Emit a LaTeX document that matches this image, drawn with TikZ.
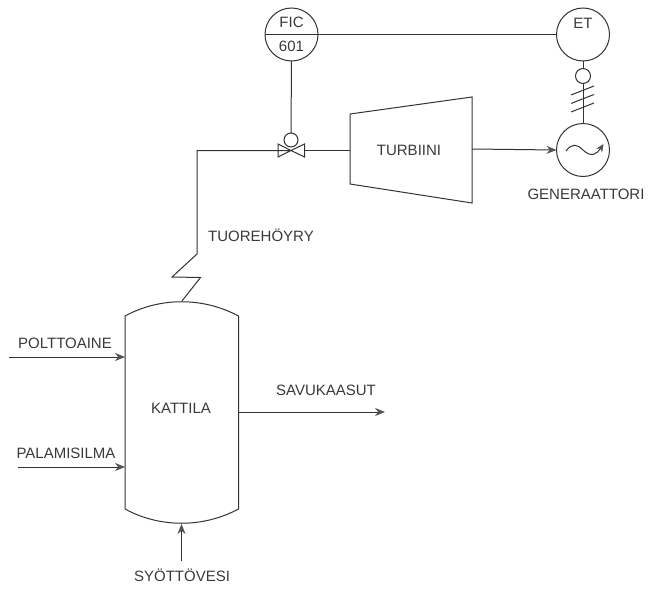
\documentclass[tikz,border=0pt]{standalone}
\usepackage{fontspec}
\setmainfont{Liberation Sans}
\usetikzlibrary{arrows.meta}
\definecolor{ink}{HTML}{333333}
\definecolor{txt}{HTML}{3A3A3A}
\tikzset{
  pipe/.style={draw=ink,line width=1pt},
  flow/.style={pipe,-{Stealth[length=10pt,width=8pt,color=ink!85]}},
  instr/.style={circle,draw=ink,line width=1pt,minimum size=53pt,inner sep=0pt,outer sep=0pt,fill=white},
  bubble/.style={circle,draw=ink,line width=1pt,minimum size=15pt,inner sep=0pt,outer sep=0pt,fill=white},
  lbl/.style={text=txt,font=\fontsize{15}{17}\selectfont,inner sep=0pt,anchor=center},
}
\begin{document}
\begin{tikzpicture}[x=1pt,y=-1pt]
\useasboundingbox (0,0) rectangle (648,589);
\fill[white] (0,0) rectangle (648,589);
% instruments
\node[instr] (fic) at (291.5,34.5) {};
\node[instr] (et) at (583,34.5) {};
\node[instr] (gen) at (583,150) {};
\node[bubble] (pos) at (583,76) {};
\node[bubble,minimum size=14pt] (act) at (291,140) {};
\coordinate (valve) at (291,150.5);
\coordinate (vl) at (278,150.5);
\coordinate (vr) at (304.5,150.5);
% turbine
\coordinate (ttl) at (350,114);
\coordinate (ttr) at (472,97);
\coordinate (tbr) at (472,203);
\coordinate (tbl) at (350,184);
\coordinate (tin) at (350,150.5);
\coordinate (tout) at (472,149);
\draw[pipe] (ttl)--(ttr)--(tbr)--(tbl)--cycle;
\node[lbl] (tur) at (409,150) {TURBIINI};
% FIC
\draw[pipe] (fic.west)--(fic.east);
\node[lbl] (ficA) at (291.5,22.5) {FIC};
\node[lbl] (ficB) at (291.5,46.5) {601};
\node[lbl] (etT) at (583,23) {ET};
\draw[pipe] (fic.east)--(et.west);
\draw[pipe] (fic.south)--(act.north);
\draw[pipe] (et.south)--(pos.north);
\draw[pipe] (pos.south)--(gen.north);
% hatches
\foreach \yy in {95,103.5,112}{
  \draw[pipe] (571,\yy)--(594,\yy-9);
}
% generator symbol
\draw[pipe,-{Stealth[length=8pt,width=7pt,color=ink!85]}] (566,151) .. controls (572,143) and (577,144) .. (583,150) .. controls (591,158) and (597,154) .. (603.5,144);
% valve
\draw[pipe] (valve)--(vl)--(278,157)--(valve)--(304.5,144)--(304.5,157)--(valve)--(278,144)--(vl);
\coordinate (p1) at (197,150.5);
\coordinate (z0) at (197,254);
\coordinate (z1) at (172,277);
\coordinate (z2) at (200.5,277.5);
\coordinate (z3) at (182,301);
\draw[pipe] (vl)--(p1)--(z0)--(z1)--(z2)--(z3);
\draw[pipe] (vr)--(tin);
\draw[flow] (tout)--(gen.west);
% vessel
\coordinate (vtl) at (125,316);
\coordinate (vtr) at (238.5,316);
\coordinate (vbl) at (125,509);
\coordinate (vbr) at (238.5,509);
\draw[pipe] (vtl) .. controls (160,297) and (203,297) .. (vtr) -- (vbr) .. controls (203,528) and (160,528) .. (vbl) -- cycle;
\node[lbl] (kat) at (181,408) {KATTILA};
% streams
\coordinate (a1) at (9,357); \coordinate (a1e) at (125,357);
\coordinate (a2) at (18,467); \coordinate (a2e) at (125,467);
\coordinate (a3) at (238.5,412); \coordinate (a3e) at (385,412);
\coordinate (a4) at (181.5,561); \coordinate (a4e) at (181.5,524);
\draw[flow] (a1)--(a1e);
\draw[flow] (a2)--(a2e);
\draw[flow] (a3)--(a3e);
\draw[flow] (a4)--(a4e);
\node[lbl] (l1) at (65,343) {POLTTOAINE};
\node[lbl] (l2) at (66,453) {PALAMISILMA};
\node[lbl] (l3) at (326,390) {SAVUKAASUT};
\node[lbl] (l4) at (182,575) {SYÖTTÖVESI};
\node[lbl] (l5) at (261,235) {TUOREHÖYRY};
\node[lbl] (l6) at (586,194) {GENERAATTORI};
\end{tikzpicture}
\end{document}
